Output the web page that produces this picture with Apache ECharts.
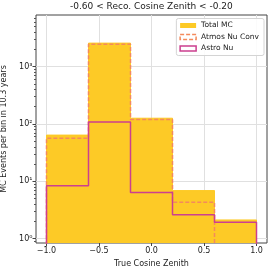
<!DOCTYPE html>
<html><head><meta charset="utf-8">
<script src="https://cdn.jsdelivr.net/npm/echarts@6/dist/echarts.min.js"></script>
<style>html,body{margin:0;padding:0;background:#fff}#c{width:274px;height:274px}</style>
</head><body><div id="c"></div>
<script>
const binEdges = [-1.0, -0.6, -0.2, 0.2, 0.6, 1.0];
const totalMC = [64, 2570, 126, 6.9, 2.12];
const atmosNuConv = [56.5, 2460, 120, 4.3, 0.19];
const astroNu = [8.4, 108, 6.4, 2.6, 1.93];
const xTicks = [-1.0, -0.5, 0.0, 0.5, 1.0];
const yTicks = [1, 10, 100, 1000];
const yMinor = [];
[0.1, 1, 10, 100, 1000].forEach(d => { for (let k = 2; k <= 9; k++) yMinor.push(d * k); });

const X_MIN = -1.1, X_MAX = 1.1, Y_MIN = 0.84, Y_MAX = 7950;
const G = {left: 36, right: 7, top: 15, bottom: 31, W: 274, H: 274};
const gw = G.W - G.left - G.right, gh = G.H - G.top - G.bottom;
const pxX = v => G.left + (v - X_MIN) / (X_MAX - X_MIN) * gw;
const pxY = v => G.top + (Math.log10(Y_MAX) - Math.log10(v)) / (Math.log10(Y_MAX) - Math.log10(Y_MIN)) * gh;
const innerX = {left: pxX(xTicks[0]), right: G.W - pxX(xTicks[xTicks.length - 1])};
const innerY = {top: pxY(yTicks[yTicks.length - 1]), bottom: G.H - pxY(yTicks[0])};

const FLOOR = 0.01;
function stepData(vals) {
  const d = [[binEdges[0], FLOOR]];
  vals.forEach((v, i) => d.push([binEdges[i], v]));
  d.push([binEdges[binEdges.length - 1], vals[vals.length - 1]]);
  d.push([binEdges[binEdges.length - 1], FLOOR]);
  return d;
}
const sup = {'0':'⁰','1':'¹','2':'²','3':'³','4':'⁴'};
const FONT = 'DejaVu Sans';
const cYellow = '#fdca26', cCoral = '#f48a5c', cPink = '#cc3f8f';
const gridColor = '#e0e0e0';
const noAxis = {axisLine: {show: false}, axisTick: {show: false}, axisLabel: {show: false}};

const chart = echarts.init(document.getElementById('c'), null, {renderer: 'canvas'});
chart.setOption({
  animation: false,
  backgroundColor: '#fff',
  title: {
    text: '-0.60 < Reco. Cosine Zenith < -0.20',
    left: 70, top: 2, padding: 0,
    textStyle: {fontFamily: FONT, fontSize: 9, fontWeight: 'normal', color: '#222'}
  },
  grid: [
    {left: G.left, right: G.right, top: G.top, bottom: G.bottom, show: true, borderColor: '#444', borderWidth: 1,
      backgroundColor: 'transparent', containLabel: false, outerBoundsMode: 'none', z: 0},
    {left: innerX.left, right: innerX.right, top: G.top, bottom: G.bottom, show: false,
      containLabel: false, outerBoundsMode: 'none'},
    {left: G.left, right: G.right, top: innerY.top, bottom: innerY.bottom, show: false,
      containLabel: false, outerBoundsMode: 'none'}
  ],
  legend: {
    orient: 'vertical', right: 10, top: 18.5,
    itemWidth: 16, itemHeight: 5, itemGap: 3.5,
    padding: [3, 5, 3, 3],
    borderColor: '#d4d4d4', borderWidth: 1, borderRadius: 2,
    backgroundColor: 'rgba(255,255,255,0.85)',
    textStyle: {fontFamily: FONT, fontSize: 7.5, lineHeight: 8, color: '#222'},
    selectedMode: false,
    data: [
      {name: 'Total MC', icon: 'rect', itemStyle: {color: cYellow, borderWidth: 0}},
      {name: 'Atmos Nu Conv', icon: 'rect', itemStyle: {color: 'rgba(0,0,0,0)', borderColor: cCoral, borderWidth: 1.5, borderType: [4, 2]}},
      {name: 'Astro Nu', icon: 'rect', itemStyle: {color: 'rgba(0,0,0,0)', borderColor: cPink, borderWidth: 1.5}}
    ]
  },
  xAxis: [{
    gridIndex: 0, type: 'value', min: X_MIN, max: X_MAX,
    name: 'True Cosine Zenith', nameLocation: 'middle', nameGap: 17,
    nameTextStyle: {fontFamily: FONT, fontSize: 8, color: '#222'},
    axisLine: {show: false},
    axisTick: {show: true, length: 3, customValues: xTicks, lineStyle: {color: '#444'}},
    axisLabel: {customValues: xTicks, fontFamily: FONT, fontSize: 8, color: '#222', margin: 4,
      formatter: v => v.toFixed(1).replace('-', '\u2212')},
    splitLine: {show: false}
  }, Object.assign({
    gridIndex: 1, type: 'value', min: xTicks[0], max: xTicks[xTicks.length - 1], interval: 0.5,
    splitLine: {show: true, lineStyle: {color: gridColor, width: 1}}
  }, noAxis), Object.assign({
    gridIndex: 2, type: 'value', min: X_MIN, max: X_MAX, splitLine: {show: false}
  }, noAxis)],
  yAxis: [{
    gridIndex: 0, type: 'log', logBase: 10, min: Y_MIN, max: Y_MAX,
    name: 'MC Events per bin in 10.3 years', nameLocation: 'middle', nameGap: 24,
    nameTextStyle: {fontFamily: FONT, fontSize: 8, color: '#222'},
    axisLine: {show: false},
    axisTick: {show: false},
    axisLabel: {customValues: yTicks, fontFamily: FONT, fontSize: 8, color: '#222', margin: 3.5,
      formatter: v => '10' + String(Math.round(Math.log10(v))).split('').map(c => sup[c]).join('')},
    splitLine: {show: false}
  }, {
    gridIndex: 0, type: 'log', logBase: 10, min: Y_MIN, max: Y_MAX, position: 'left',
    axisLine: {show: false},
    axisTick: {show: true, length: 2, customValues: yMinor.filter(v => v >= Y_MIN && v <= Y_MAX), lineStyle: {color: '#555'}},
    axisLabel: {show: false},
    splitLine: {show: false}
  }, {
    gridIndex: 0, type: 'log', logBase: 10, min: Y_MIN, max: Y_MAX, position: 'left',
    axisLine: {show: false},
    axisTick: {show: true, length: 3.5, customValues: yTicks, lineStyle: {color: '#444'}},
    axisLabel: {show: false},
    splitLine: {show: false}
  }, Object.assign({
    gridIndex: 1, type: 'value', min: 0, max: 1, splitLine: {show: false}
  }, noAxis), Object.assign({
    gridIndex: 2, type: 'log', logBase: 10, min: yTicks[0], max: yTicks[yTicks.length - 1],
    splitLine: {show: true, lineStyle: {color: gridColor, width: 1}}
  }, noAxis)],
  series: [
    {name: 'Total MC', type: 'line', step: 'end', data: stepData(totalMC), symbol: 'none',
      xAxisIndex: 0, yAxisIndex: 0,
      lineStyle: {color: cYellow, width: 1}, itemStyle: {color: cYellow},
      areaStyle: {color: cYellow, opacity: 1, origin: 'start'}, z: 3, silent: true},
    {name: 'Atmos Nu Conv', type: 'line', step: 'end', data: stepData(atmosNuConv), symbol: 'none',
      xAxisIndex: 0, yAxisIndex: 0,
      lineStyle: {color: cCoral, width: 1.5, type: [4, 2]}, itemStyle: {color: cCoral}, z: 4, silent: true},
    {name: 'Astro Nu', type: 'line', step: 'end', data: stepData(astroNu), symbol: 'none',
      xAxisIndex: 0, yAxisIndex: 0,
      lineStyle: {color: cPink, width: 1.5}, itemStyle: {color: cPink}, z: 5, silent: true}
  ]
});
</script></body></html>
